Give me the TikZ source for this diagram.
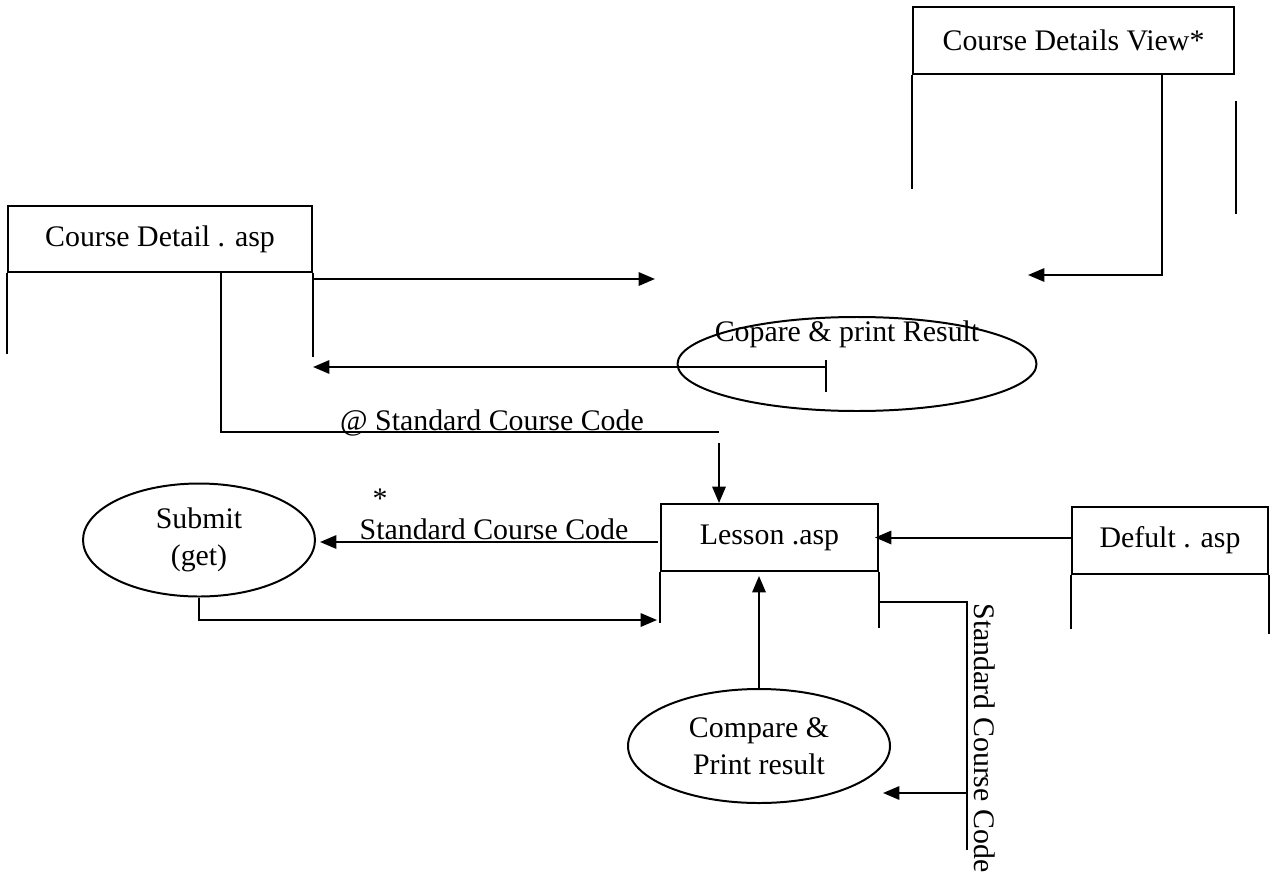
\documentclass[tikz,border=0pt]{standalone}
\usepackage{fontspec}
\setmainfont{Liberation Serif}
\usepackage{tikz}
\usetikzlibrary{shapes.geometric, arrows.meta, calc, positioning}
\newcommand{\pxu}{0.402pt}
\tikzstyle{store} = [rectangle, thick, draw=black, inner sep=0pt, text centered, font=\fontsize{12}{14.5}\selectfont]
\tikzstyle{process} = [ellipse, thick, draw=black, inner sep=0pt, align=center, font=\fontsize{12}{14.8}\selectfont]
\tikzstyle{flow} = [inner sep=0pt, font=\fontsize{12}{14.5}\selectfont]
\tikzstyle{wire} = [thick]
\tikzstyle{arrow} = [thick,-{Triangle[length=6.6pt,width=5.4pt]}]

\begin{document}
\begin{tikzpicture}[x=\pxu, y=-\pxu]
	\useasboundingbox (0,0) rectangle (1272,880);
	% stores
	\node (DetailsView) [store, minimum width=321*\pxu, minimum height=67*\pxu] at (1073.5,40.5) {Course Details View*};
	\node (CourseDetail) [store, minimum width=304*\pxu, minimum height=66*\pxu] at (160,239) {Course Detail . asp};
	\node (Lesson) [store, minimum width=217*\pxu, minimum height=67*\pxu] at (769.5,537.5) {Lesson .asp};
	\node (Defult) [store, minimum width=196*\pxu, minimum height=67*\pxu] at (1170,540.5) {Defult . asp};
	\draw [wire] (DetailsView.south west) -- ++(0,114);
	\draw [wire] ($(DetailsView.south east)+(1,26)$) -- ++(0,113);
	\draw [wire] (CourseDetail.south west) -- ++(0,81);
	\draw [wire] (CourseDetail.south east) -- ++(0,84);
	\draw [wire] (Lesson.south west) -- ++(0,51);
	\draw [wire] (Lesson.south east) -- ++(0,56);
	\draw [wire] (Defult.south west) -- ++(0,54);
	\draw [wire] (Defult.south east) -- ++(0,59);
	% processes
	\node (CompareTop) [process, minimum width=359*\pxu, minimum height=94*\pxu] at (857,364) {};
	\node (CompareTopText) [flow] at (847,334) {Copare \& print Result};
	\node (Submit) [process, minimum width=232*\pxu, minimum height=113*\pxu] at (199,540) {Submit\\(get)};
	\node (CompareLow) [process, minimum width=262*\pxu, minimum height=114*\pxu] at (759,746) {Compare \&\\Print result};
	% labels
	\node (AtCode) [flow, anchor=base] at (492,430) {@ Standard Course Code};
	\node (Star) [flow, anchor=base] at (380,508) {*};
	\node (StdCode) [flow, anchor=base] at (494,539) {Standard Course Code};
	\node (StdCodeDown) [flow, rotate=-90] at (985,738) {Standard Course Code};
	% free ends
	\coordinate (ViewTap) at (1162,74);
	\coordinate (ViewIn) at (1028,275);
	\coordinate (DetailOut) at (312,279);
	\coordinate (CompareIn) at (655,279);
	\coordinate (ResultOut) at (826,367);
	\coordinate (DetailIn) at (313,367);
	\coordinate (DetailTap) at (221,272);
	\coordinate (CodeBend) at (719,432);
	\coordinate (CodeDrop) at (719,443);
	\coordinate (LessonOut) at (658,542);
	\coordinate (SubmitIn) at (320,542);
	\coordinate (LessonIn) at (657,620);
	\coordinate (LessonTap) at (880,602);
	\coordinate (CodeEnd) at (967,850);
	\coordinate (CodeSplit) at (967,793);
	\coordinate (CompareLowIn) at (883,793);
	% flows
	\draw [arrow] (ViewTap) |- (ViewIn);
	\draw [arrow] (DetailOut) -- (CompareIn);
	\draw [arrow] (ResultOut) -- (DetailIn);
	\draw [wire] ($(ResultOut)+(0,-7)$) -- ++(0,32);
	\draw [wire] (DetailTap) |- (CodeBend);
	\draw [arrow] (CodeDrop) -- (CodeDrop |- Lesson.north);
	\draw [arrow] (LessonOut) -- (SubmitIn);
	\draw [arrow] (Submit.south) |- (LessonIn);
	\draw [arrow] (Defult.west |- Lesson.east) -- ([xshift=-4*\pxu]Lesson.east);
	\draw [arrow] (CompareLow.north) -- ([yshift=-4*\pxu]CompareLow.north |- Lesson.south);
	\draw [wire] (LessonTap) -| (CodeEnd);
	\draw [arrow] (CodeSplit) -- (CompareLowIn);
\end{tikzpicture}
\end{document}
